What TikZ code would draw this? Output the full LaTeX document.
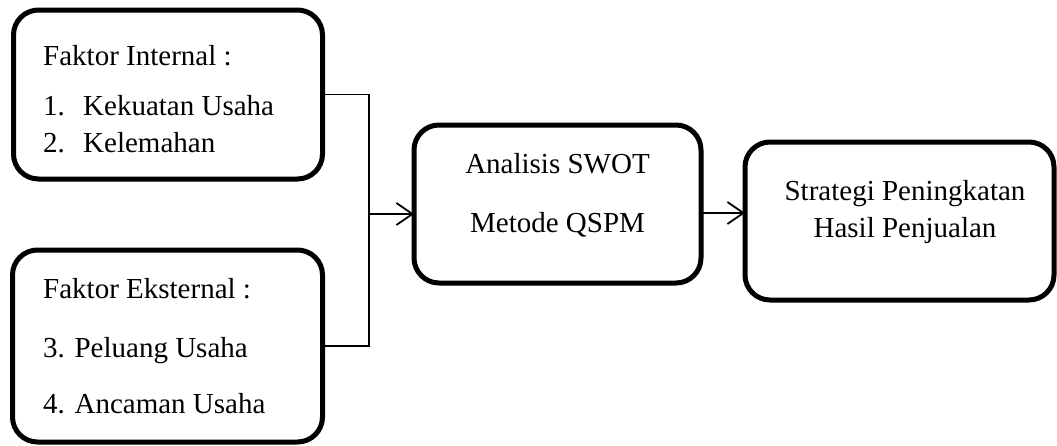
\documentclass[tikz,border=0pt]{standalone}
\usepackage{fontspec}
\setmainfont{Liberation Serif}
\usetikzlibrary{arrows.meta}
\begin{document}
\begin{tikzpicture}[x=1pt,y=-1pt,
  box/.style={draw, line width=5pt, rounded corners=25pt, inner sep=0pt, outer sep=0pt},
  lbl/.style={anchor=base west, inner sep=0pt, font=\fontsize{29}{35}\selectfont},
  ctr/.style={anchor=base, inner sep=0pt, font=\fontsize{29}{35}\selectfont},
  conn/.style={line width=1.8pt},
  arr/.style={conn, -{Straight Barb[length=16pt,width=22pt]}}]
\useasboundingbox (0,0) rectangle (1057,445);
% boxes
\node[box, minimum width=309pt, minimum height=169pt] (int) at (168,94.5) {};
\node[box, minimum width=310pt, minimum height=192pt] (ext) at (167.5,346) {};
\node[box, minimum width=287pt, minimum height=158pt] (swot) at (557.5,204) {};
\node[box, minimum width=309pt, minimum height=158pt] (strat) at (899.5,221) {};
% texts
\node[lbl] (t1) at (43,65) {Faktor Internal :};
\node[lbl] (t2) at (43,115) {\makebox[40pt][l]{1.}Kekuatan Usaha};
\node[lbl] (t3) at (43,152) {\makebox[40pt][l]{2.}Kelemahan};
\node[lbl] (t4) at (43,298) {Faktor Eksternal :};
\node[lbl] (t5) at (43,357) {3. Peluang Usaha};
\node[lbl] (t6) at (43,413) {4. Ancaman Usaha};
\node[ctr] (t7) at (557.5,173) {Analisis SWOT};
\node[ctr] (t8) at (557.5,232) {Metode QSPM};
\node[ctr] (t9) at (905,200) {Strategi Peningkatan};
\node[ctr] (t10) at (905,237) {Hasil Penjualan};
% connectors
\coordinate (j) at (369,214);
\draw[conn] (int.east) -| (j);
\draw[conn] (ext.east) -| (j);
\draw[arr] (j) -- (j -| swot.west);
\coordinate (k) at (701,213);
\draw[arr] (k) -- (k -| strat.west);
\end{tikzpicture}
\end{document}
